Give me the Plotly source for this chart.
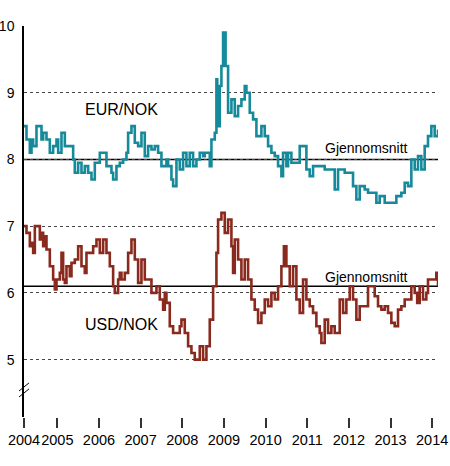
import plotly.graph_objects as go

# EUR/NOK (decimal years)
eur_t = [2004.20, 2004.26, 2004.34, 2004.38, 2004.42, 2004.50, 2004.54, 2004.62, 2004.66, 2004.74,
         2004.82, 2004.90, 2004.98, 2005.02, 2005.10, 2005.18, 2005.30, 2005.38, 2005.42, 2005.50,
         2005.58, 2005.66, 2005.74, 2005.82, 2005.90, 2006.02, 2006.10, 2006.18, 2006.30, 2006.34,
         2006.42, 2006.50, 2006.58, 2006.66, 2006.70, 2006.78, 2006.86, 2006.94, 2007.02, 2007.10,
         2007.18, 2007.26, 2007.34, 2007.42, 2007.50, 2007.62, 2007.66, 2007.74, 2007.78, 2007.86,
         2007.94, 2008.02, 2008.10, 2008.18, 2008.26, 2008.34, 2008.42, 2008.50, 2008.54, 2008.66,
         2008.70, 2008.78, 2008.82, 2008.84, 2008.90, 2008.94, 2008.98, 2009.04, 2009.10, 2009.18,
         2009.26, 2009.34, 2009.42, 2009.50, 2009.54, 2009.62, 2009.70, 2009.78, 2009.90, 2009.98,
         2010.06, 2010.14, 2010.22, 2010.30, 2010.38, 2010.42, 2010.50, 2010.54, 2010.62, 2010.74,
         2010.82, 2010.90, 2010.98, 2011.06, 2011.14, 2011.26, 2011.42, 2011.58, 2011.66, 2011.74,
         2011.90, 2012.02, 2012.10, 2012.18, 2012.26, 2012.38, 2012.46, 2012.58, 2012.66, 2012.74,
         2012.86, 2013.02, 2013.14, 2013.26, 2013.34, 2013.42, 2013.50, 2013.58, 2013.66, 2013.74,
         2013.82, 2013.90, 2013.98, 2014.06, 2014.14]
eur_v = [8.5, 8.3, 8.1, 8.3, 8.2, 8.5, 8.5, 8.3, 8.4, 8.3,
         8.1, 8.2, 8.3, 8.1, 8.4, 8.2, 8.2, 8.0, 7.8, 7.95,
         7.8, 7.9, 7.8, 7.7, 7.95, 8.1, 8.1, 7.9, 7.8, 7.7,
         7.9, 7.95, 8.0, 8.1, 8.4, 8.5, 8.25, 8.2, 8.4, 8.05,
         8.2, 8.15, 8.2, 8.1, 7.9, 8.0, 7.9, 7.7, 7.6, 8.0,
         7.85, 8.1, 7.9, 8.1, 7.9, 8.0, 8.1, 8.05, 8.1, 7.9,
         8.3, 8.4, 9.2, 8.5, 9.1, 9.4, 9.9, 9.4, 8.7, 8.9,
         8.65, 8.8, 8.9, 9.1, 9.0, 8.7, 8.6, 8.35, 8.5, 8.35,
         8.2, 8.1, 8.05, 7.9, 7.75, 8.1, 7.9, 8.1, 7.95, 7.95,
         8.2, 8.2, 7.85, 7.75, 7.9, 7.9, 7.85, 7.85, 7.55, 7.85,
         7.8, 7.8, 7.6, 7.4, 7.6, 7.55, 7.5, 7.5, 7.35, 7.45,
         7.35, 7.35, 7.45, 7.5, 7.65, 7.6, 8.0, 7.85, 8.05, 7.85,
         8.2, 8.35, 8.5, 8.35, 8.45]

# USD/NOK
usd_t = [2004.20, 2004.26, 2004.34, 2004.38, 2004.42, 2004.46, 2004.54, 2004.58, 2004.62, 2004.66,
         2004.70, 2004.74, 2004.82, 2004.90, 2004.94, 2004.98, 2005.06, 2005.10, 2005.14, 2005.18,
         2005.22, 2005.30, 2005.34, 2005.42, 2005.50, 2005.58, 2005.66, 2005.70, 2005.78, 2005.86,
         2005.94, 2006.02, 2006.10, 2006.18, 2006.26, 2006.34, 2006.38, 2006.46, 2006.50, 2006.54,
         2006.62, 2006.70, 2006.78, 2006.86, 2006.94, 2007.02, 2007.10, 2007.18, 2007.26, 2007.38,
         2007.46, 2007.54, 2007.58, 2007.62, 2007.70, 2007.78, 2007.86, 2007.94, 2007.98, 2008.06,
         2008.14, 2008.22, 2008.30, 2008.42, 2008.50, 2008.58, 2008.66, 2008.74, 2008.82, 2008.86,
         2008.94, 2009.02, 2009.10, 2009.18, 2009.22, 2009.26, 2009.34, 2009.42, 2009.50, 2009.58,
         2009.66, 2009.74, 2009.82, 2009.90, 2009.98, 2010.06, 2010.14, 2010.22, 2010.30, 2010.38,
         2010.44, 2010.50, 2010.58, 2010.66, 2010.74, 2010.82, 2010.90, 2010.98, 2011.06, 2011.14,
         2011.22, 2011.30, 2011.34, 2011.42, 2011.50, 2011.58, 2011.66, 2011.78, 2011.86, 2011.94,
         2012.02, 2012.10, 2012.18, 2012.26, 2012.38, 2012.46, 2012.54, 2012.62, 2012.70, 2012.78,
         2012.86, 2012.94, 2013.02, 2013.10, 2013.18, 2013.26, 2013.34, 2013.46, 2013.50, 2013.58,
         2013.64, 2013.70, 2013.78, 2013.86, 2013.90, 2014.02, 2014.10, 2014.14]
usd_v = [7.0, 6.9, 6.7, 6.75, 6.6, 7.0, 7.0, 6.8, 6.9, 6.7,
         6.85, 6.65, 6.4, 6.2, 6.05, 6.2, 6.3, 6.6, 6.2, 6.15,
         6.4, 6.25, 6.45, 6.5, 6.7, 6.4, 6.3, 6.6, 6.6, 6.7,
         6.8, 6.6, 6.8, 6.6, 6.4, 6.1, 6.0, 6.2, 6.3, 6.2,
         6.3, 6.6, 6.8, 6.5, 6.15, 6.5, 6.2, 6.2, 6.0, 6.1,
         5.9, 5.75, 6.0, 5.85, 5.5, 5.4, 5.4, 5.5, 5.6, 5.4,
         5.2, 5.1, 5.0, 5.2, 5.0, 5.2, 5.6, 6.1, 6.6, 7.1,
         7.2, 6.9, 7.1, 6.7, 6.3, 6.8, 6.5, 6.2, 6.5, 6.2,
         5.9, 5.75, 5.55, 5.7, 5.9, 5.8, 6.0, 5.9, 6.1, 6.4,
         6.7, 6.4, 6.1, 6.4, 5.9, 5.7, 6.2, 5.9, 5.8, 5.7,
         5.5, 5.4, 5.25, 5.6, 5.4, 5.5, 5.4, 5.9, 5.7, 5.9,
         6.1, 5.9, 5.6, 5.8, 5.8, 6.1, 6.1, 5.95, 5.8, 5.75,
         5.8, 5.7, 5.55, 5.5, 5.75, 5.8, 5.9, 5.9, 6.1, 6.0,
         5.85, 6.1, 5.9, 6.0, 6.2, 6.2, 6.3, 6.1]

averages = {"EUR/NOK": 8.0, "USD/NOK": 6.1}
year_ticks = [2004.2, 2005, 2006, 2007, 2008, 2009, 2010, 2011, 2012, 2013, 2014]
year_labels = ["2004", "2005", "2006", "2007", "2008", "2009", "2010", "2011", "2012", "2013", "2014"]

teal = "#168a9a"
darkred = "#8a2a1e"
sans = "Liberation Sans, Arial"

fig = go.Figure()
fig.add_trace(go.Scatter(x=eur_t, y=eur_v, mode="lines", line_shape="hv",
                         line=dict(color=teal, width=2.6), name="EUR/NOK", cliponaxis=False))
fig.add_trace(go.Scatter(x=usd_t, y=usd_v, mode="lines", line_shape="hv",
                         line=dict(color=darkred, width=2.6), name="USD/NOK", cliponaxis=False))

# average lines
for k, v in averages.items():
    fig.add_shape(type="line", xref="paper", x0=0, x1=1, y0=v, y1=v,
                  line=dict(color="black", width=1.5), layer="below")

# axis break marks
for dy in [0, 0.09]:
    fig.add_shape(type="line", xref="paper", x0=-0.012, x1=0.012,
                  y0=4.44 + dy, y1=4.56 + dy, line=dict(color="black", width=1))

fig.add_annotation(x=2006.55, y=8.75, text="EUR/NOK", showarrow=False,
                   font=dict(size=16, color="black", family=sans))
fig.add_annotation(x=2006.55, y=5.53, text="USD/NOK", showarrow=False,
                   font=dict(size=16, color="black", family=sans))
fig.add_annotation(x=2012.42, y=8.17, text="Gjennomsnitt", showarrow=False,
                   font=dict(size=14, color="black", family=sans))
fig.add_annotation(x=2012.42, y=6.24, text="Gjennomsnitt", showarrow=False,
                   font=dict(size=14, color="black", family=sans))

fig.update_layout(
    width=450, height=466,
    margin=dict(l=24, r=12, t=26, b=49, autoexpand=False),
    paper_bgcolor="white", plot_bgcolor="white",
    showlegend=False,
    font=dict(family=sans, size=15, color="black"),
)
fig.update_xaxes(range=[2004.2, 2014.14], tickvals=year_ticks, ticktext=year_labels,
                 ticks="outside", ticklen=10, tickwidth=1.5, tickcolor="#333",
                 tickangle=0, automargin=False, ticklabeloverflow="allow",
                 showgrid=False, showline=False, zeroline=False,
                 tickfont=dict(size=14.5, family=sans))
fig.update_yaxes(range=[4.14, 10], tickvals=[5, 6, 7, 8, 9, 10],
                 showgrid=True, gridcolor="#444", griddash="dot", gridwidth=1,
                 showline=True, linecolor="black", linewidth=1.5,
                 ticks="", zeroline=False, ticklabelstandoff=5, automargin=False,
                 ticklabeloverflow="allow",
                 tickfont=dict(size=14, family=sans))

# drop the browser's default 8px page margin so the figure sits at the corner
fig.write_html("out.html", config={"displayModeBar": False},
               post_script="document.body.style.margin='0';")
